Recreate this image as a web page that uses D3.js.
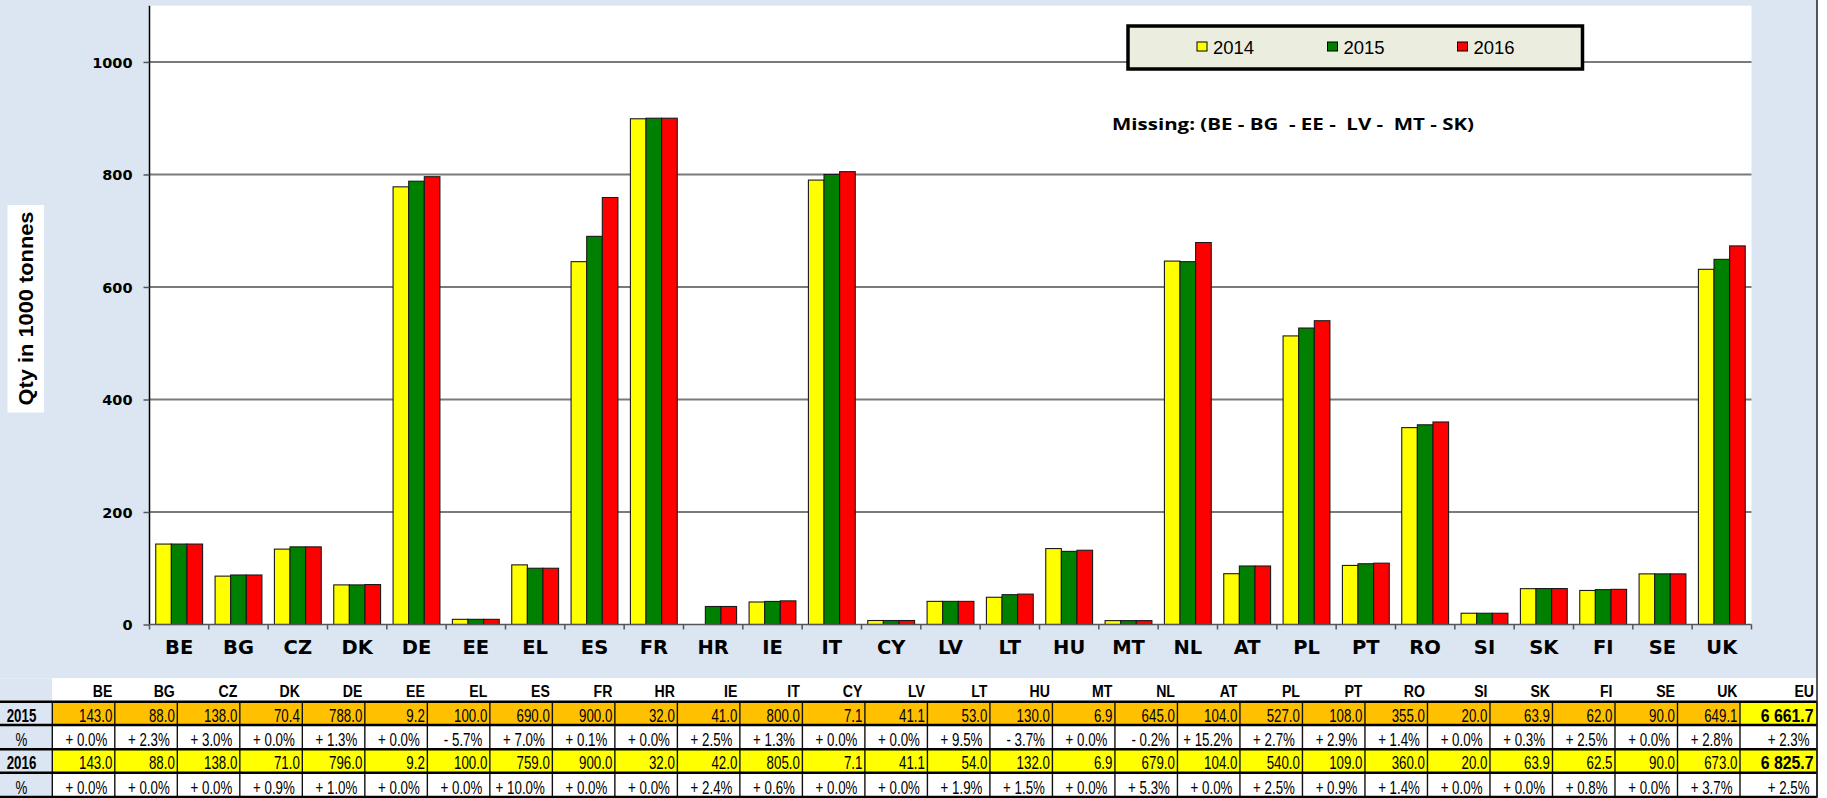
<!DOCTYPE html>
<html>
<head>
<meta charset="utf-8">
<script src="https://cdn.jsdelivr.net/npm/d3@7/dist/d3.min.js"></script>
<style>
  html, body { margin: 0; padding: 0; background: #ffffff; }
  svg { display: block; }
  text { white-space: pre; }
</style>
</head>
<body>
<svg id="chart" width="1827" height="798"></svg>
<script>
// ---------------- DATA ----------------
const categories = ["BE","BG","CZ","DK","DE","EE","EL","ES","FR","HR","IE","IT","CY","LV","LT","HU","MT","NL","AT","PL","PT","RO","SI","SK","FI","SE","UK"];
const seriesNames = ["2014","2015","2016"];
const values2014 = [143.0, 86.0, 134.0, 70.4, 778.0, 9.2, 106.0, 645.0, 899.0, null, 40.0, 790.0, 7.1, 41.1, 48.4, 135.0, 6.9, 646.0, 90.3, 513.0, 105.0, 350.0, 20.0, 63.7, 60.5, 90.0, 631.4];
const values2015 = [143.0, 88.0, 138.0, 70.4, 788.0, 9.2, 100.0, 690.0, 900.0, 32.0, 41.0, 800.0, 7.1, 41.1, 53.0, 130.0, 6.9, 645.0, 104.0, 527.0, 108.0, 355.0, 20.0, 63.9, 62.0, 90.0, 649.1];
const values2016 = [143.0, 88.0, 138.0, 71.0, 796.0, 9.2, 100.0, 759.0, 900.0, 32.0, 42.0, 805.0, 7.1, 41.1, 54.0, 132.0, 6.9, 679.0, 104.0, 540.0, 109.0, 360.0, 20.0, 63.9, 62.5, 90.0, 673.0];
const pct2015 = ["+ 0.0%","+ 2.3%","+ 3.0%","+ 0.0%","+ 1.3%","+ 0.0%","- 5.7%","+ 7.0%","+ 0.1%","+ 0.0%","+ 2.5%","+ 1.3%","+ 0.0%","+ 0.0%","+ 9.5%","- 3.7%","+ 0.0%","- 0.2%","+ 15.2%","+ 2.7%","+ 2.9%","+ 1.4%","+ 0.0%","+ 0.3%","+ 2.5%","+ 0.0%","+ 2.8%"];
const pct2016 = ["+ 0.0%","+ 0.0%","+ 0.0%","+ 0.9%","+ 1.0%","+ 0.0%","+ 0.0%","+ 10.0%","+ 0.0%","+ 0.0%","+ 2.4%","+ 0.6%","+ 0.0%","+ 0.0%","+ 1.9%","+ 1.5%","+ 0.0%","+ 5.3%","+ 0.0%","+ 2.5%","+ 0.9%","+ 1.4%","+ 0.0%","+ 0.0%","+ 0.8%","+ 0.0%","+ 3.7%"];
const euLabel = "EU";
const euTotals = ["6 661.7", "6 825.7"];
const euPcts = ["+ 2.3%", "+ 2.5%"];
const rowLabels = ["2015", "%", "2016", "%"];
const yTicks = [0, 200, 400, 600, 800, 1000];
const yTitle = "Qty in 1000 tonnes";
const missingNote = "Missing: (BE - BG  - EE -  LV -  MT - SK)";
const seriesColors = ["#ffff00", "#008000", "#ff0000"];

// ---------------- LAYOUT ----------------
const svg = d3.select("#chart");
const W = 1827, H = 798;
const frameRight = 1817;
const plot = { left: 149.5, right: 1751.5, top: 5.7, bottom: 624.5 };
const bg = "#dce6f2";

svg.append("rect").attr("x", 0).attr("y", 0).attr("width", W).attr("height", H).attr("fill", "#ffffff");
svg.append("rect").attr("x", 0).attr("y", 0).attr("width", frameRight).attr("height", 678.3).attr("fill", bg);
svg.append("rect").attr("x", plot.left).attr("y", plot.top)
  .attr("width", plot.right - plot.left).attr("height", plot.bottom - plot.top).attr("fill", "#ffffff");

const y = d3.scaleLinear().domain([0, 1100]).range([plot.bottom, plot.top]);
const x0 = d3.scaleBand().domain(categories).range([plot.left, plot.right]).paddingInner(0).paddingOuter(0);
const x1 = d3.scaleBand().domain(seriesNames).range([0, x0.bandwidth()]).paddingInner(0).paddingOuter(0.4);

// gridlines
svg.append("g").selectAll("line").data(yTicks.filter(d => d > 0)).join("line")
  .attr("x1", plot.left).attr("x2", plot.right)
  .attr("y1", d => y(d)).attr("y2", d => y(d))
  .attr("stroke", "#7a7a7a").attr("stroke-width", 2);

// bars
const seriesData = [values2014, values2015, values2016];
const barG = svg.append("g");
categories.forEach((c, i) => {
  seriesNames.forEach((s, j) => {
    const v = seriesData[j][i];
    if (v === null || v === undefined) return;
    barG.append("rect")
      .attr("x", x0(c) + x1(s))
      .attr("y", y(v))
      .attr("width", x1.bandwidth())
      .attr("height", y(0) - y(v))
      .attr("fill", seriesColors[j])
      .attr("stroke", "#1a1a1a").attr("stroke-width", 1.1);
  });
});

// y axis
const yAxis = d3.axisLeft(y).tickValues(yTicks).tickFormat(d3.format("d"))
  .tickSize(6).tickPadding(11).tickSizeOuter(0);
const yAxisG = svg.append("g").attr("transform", `translate(${plot.left},0)`).call(yAxis);
yAxisG.select(".domain").attr("stroke", "#000").attr("stroke-width", 1.5)
  .attr("d", `M0,${plot.top}V${plot.bottom}`);
yAxisG.selectAll(".tick line").attr("stroke", "#555").attr("stroke-width", 1.5);
yAxisG.selectAll(".tick text")
  .attr("font-family", "DejaVu Sans, Verdana, sans-serif").attr("font-weight", "bold")
  .attr("font-size", 14.5).attr("fill", "#000").attr("dy", "0.36em");

// x axis
const xAxisG = svg.append("g").attr("transform", `translate(0,${plot.bottom})`);
xAxisG.append("line").attr("x1", plot.left).attr("x2", plot.right).attr("y1", 0).attr("y2", 0)
  .attr("stroke", "#555").attr("stroke-width", 1.5);
const boundaries = categories.map(c => x0(c)).concat([x0(categories[categories.length - 1]) + x0.bandwidth()]);
xAxisG.selectAll("line.tk").data(boundaries).join("line").attr("class", "tk")
  .attr("x1", d => d).attr("x2", d => d).attr("y1", 0).attr("y2", 5)
  .attr("stroke", "#555").attr("stroke-width", 1.5);
xAxisG.selectAll("text").data(categories).join("text")
  .attr("x", d => x0(d) + x0.bandwidth() / 2)
  .attr("y", 29.5)
  .attr("text-anchor", "middle")
  .attr("font-family", "DejaVu Sans, Verdana, sans-serif").attr("font-weight", "bold")
  .attr("font-size", 19.5).attr("fill", "#000")
  .text(d => d);

// y title
svg.append("rect").attr("x", 7.5).attr("y", 205).attr("width", 36.5).attr("height", 207.5).attr("fill", "#ffffff");
svg.append("text")
  .attr("transform", "translate(33,308.5) rotate(-90)")
  .attr("text-anchor", "middle")
  .attr("font-family", "Liberation Sans, Arial, sans-serif").attr("font-weight", "bold")
  .attr("font-size", 21).attr("fill", "#000")
  .attr("textLength", 194).attr("lengthAdjust", "spacingAndGlyphs")
  .text(yTitle);

// legend
const lg = svg.append("g");
lg.append("rect").attr("x", 1128).attr("y", 26).attr("width", 454.5).attr("height", 43)
  .attr("fill", "#ebeedf").attr("stroke", "#000").attr("stroke-width", 3.5);
const legendX = [1197, 1327.5, 1457.5];
seriesNames.forEach((s, j) => {
  lg.append("rect").attr("x", legendX[j]).attr("y", 42).attr("width", 10).attr("height", 9)
    .attr("fill", seriesColors[j]).attr("stroke", "#000").attr("stroke-width", 1);
  lg.append("text").attr("x", legendX[j] + 16).attr("y", 53.5)
    .attr("font-family", "Liberation Sans, Arial, sans-serif").attr("font-size", 18.5).attr("fill", "#000")
    .text(s);
});

// missing note
svg.append("text").attr("x", 1112).attr("y", 130)
  .attr("font-family", "Open Sans, Liberation Sans, sans-serif").attr("font-weight", "bold")
  .attr("font-size", 15.5).attr("fill", "#000")
  .attr("textLength", 362).attr("lengthAdjust", "spacingAndGlyphs")
  .text(missingNote);

// ---------------- TABLE ----------------
const tbl = svg.append("g");
const tableLeft = 52.3, euLeft = 1740, tableRight = frameRight;
const tx = d3.scaleBand().domain(categories).range([tableLeft, euLeft]);
const rowTops = [678.3, 701.7, 725, 749.3, 772.7, 797];
const rowFills = ["#ffc000", "#ffffff", "#ffff00", "#ffffff"];
const euFills = ["#ffff00", "#ffffff", "#ffff00", "#ffffff"];

// header row
tbl.append("rect").attr("x", 0).attr("y", rowTops[0]).attr("width", tableLeft).attr("height", rowTops[1] - rowTops[0]).attr("fill", bg);
tbl.append("rect").attr("x", tableLeft).attr("y", rowTops[0]).attr("width", tableRight - tableLeft).attr("height", rowTops[1] - rowTops[0]).attr("fill", "#ffffff");

// body fills
for (let r = 0; r < 4; r++) {
  const yt = rowTops[r + 1], h = rowTops[r + 2] - yt;
  tbl.append("rect").attr("x", 0).attr("y", yt).attr("width", tableLeft).attr("height", h).attr("fill", bg);
  tbl.append("rect").attr("x", tableLeft).attr("y", yt).attr("width", euLeft - tableLeft).attr("height", h).attr("fill", rowFills[r]);
  tbl.append("rect").attr("x", euLeft).attr("y", yt).attr("width", tableRight - euLeft).attr("height", h).attr("fill", euFills[r]);
}

// vertical lines
const colEdges = categories.map(c => tx(c)).concat([euLeft, tableRight]);
tbl.selectAll("line.v").data(colEdges).join("line").attr("class", "v")
  .attr("x1", d => d).attr("x2", d => d).attr("y1", rowTops[1]).attr("y2", rowTops[5])
  .attr("stroke", "#111").attr("stroke-width", 1.4);
// horizontal lines
tbl.selectAll("line.h").data(rowTops.slice(1)).join("line").attr("class", "h")
  .attr("x1", 0).attr("x2", tableRight).attr("y1", d => d).attr("y2", d => d)
  .attr("stroke", "#000").attr("stroke-width", 2.6);

function cellText(xp, yp, txt, opts) {
  const g = tbl.append("g").attr("transform", `translate(${xp},${yp}) scale(${opts.sx || 0.74},1)`);
  g.append("text").attr("x", 0).attr("y", 0)
    .attr("text-anchor", opts.anchor || "end")
    .attr("font-family", "Liberation Sans, Arial, sans-serif")
    .attr("font-weight", opts.bold ? "bold" : "normal")
    .attr("font-size", opts.size || 18).attr("fill", "#000")
    .text(txt);
}

const fmt = d3.format(".1f");
const baselines = [697, 721.5, 745.8, 769.2, 793.5];
// header
categories.forEach(c => cellText(tx(c) + tx.bandwidth() - 2.5, baselines[0], c, { bold: true, size: 17, sx: 0.83 }));
cellText(tableRight - 3, baselines[0], euLabel, { bold: true, size: 17, sx: 0.83 });
// row labels
rowLabels.forEach((l, r) => cellText(21.5, baselines[r + 1], l, { bold: l !== "%", anchor: "middle", size: 18 }));
// body
const bodyRows = [values2015.map(fmt), pct2015, values2016.map(fmt), pct2016];
const pad = [2.5, 7.5, 2.5, 7.5];
bodyRows.forEach((row, r) => {
  row.forEach((t, i) => cellText(tx(categories[i]) + tx.bandwidth() - pad[r], baselines[r + 1], t, { size: 18 }));
});
cellText(tableRight - 3.5, baselines[1], euTotals[0], { bold: true, size: 18, sx: 0.88 });
cellText(tableRight - 7.5, baselines[2], euPcts[0], { size: 18 });
cellText(tableRight - 3.5, baselines[3], euTotals[1], { bold: true, size: 18, sx: 0.88 });
cellText(tableRight - 7.5, baselines[4], euPcts[1], { size: 18 });

// right frame line
svg.append("line").attr("x1", frameRight).attr("x2", frameRight).attr("y1", 0).attr("y2", H)
  .attr("stroke", "#222").attr("stroke-width", 1.5);
</script>
</body>
</html>
